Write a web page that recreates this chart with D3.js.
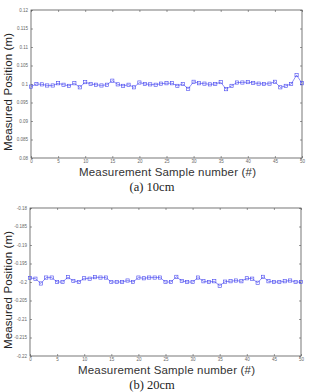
<!DOCTYPE html>
<html>
<head>
<meta charset="utf-8">
<script src="https://cdn.jsdelivr.net/npm/d3@7"></script>
<style>
  html, body { margin: 0; padding: 0; background: #fff; }
  svg { display: block; }
</style>
</head>
<body>
<svg id="chart" width="309" height="392"></svg>
<script>
// sample indices 0..50
const samples = d3.range(0, 51);

// (a) 10cm measurements (m)
const posA = [
  0.0993, 0.1000, 0.0999, 0.0996, 0.0996, 0.1002, 0.0998, 0.0995, 0.1002, 0.0991,
  0.1005, 0.1000, 0.0998, 0.0996, 0.0998, 0.1009, 0.0999, 0.0995, 0.0998, 0.0991,
  0.1004, 0.1000, 0.0999, 0.0998, 0.1001, 0.1002, 0.1002, 0.0995, 0.1000, 0.0987,
  0.1006, 0.1002, 0.1001, 0.0999, 0.1000, 0.1005, 0.0986, 0.0995, 0.1004, 0.1004,
  0.1005, 0.1003, 0.1001, 0.1000, 0.1001, 0.1006, 0.0991, 0.0995, 0.1000, 0.1024,
  0.1002
];

// (b) 20cm measurements (m)
const posB = [
  -0.1989, -0.1991, -0.2004, -0.1988, -0.1988, -0.2000, -0.2000, -0.1987, -0.1997, -0.2000,
  -0.1990, -0.1991, -0.1987, -0.1988, -0.1988, -0.2000, -0.2000, -0.2000, -0.1996, -0.2000,
  -0.1988, -0.1990, -0.1988, -0.1988, -0.1988, -0.2000, -0.2000, -0.1986, -0.1997, -0.2000,
  -0.2000, -0.1988, -0.1998, -0.2000, -0.1998, -0.2010, -0.1999, -0.1998, -0.1996, -0.1998,
  -0.1990, -0.1991, -0.2002, -0.1986, -0.1998, -0.2000, -0.2000, -0.1998, -0.1996, -0.2000,
  -0.2000
];

const xTicks = [0, 5, 10, 15, 20, 25, 30, 35, 40, 45, 50];
const yTicksA = [0.08, 0.085, 0.09, 0.095, 0.1, 0.105, 0.11, 0.115, 0.12];
const yTicksB = [-0.22, -0.215, -0.21, -0.205, -0.2, -0.195, -0.19, -0.185, -0.18];

const xLabel = 'Measurement Sample number (#)';
const yLabel = 'Measured Position (m)';

const svg = d3.select('#chart');

function panel(opts) {
  const { values, yTicks, box, caption } = opts;
  const g = svg.append('g');

  const x = d3.scaleLinear().domain([0, 50]).range([box.left, box.right]);
  const y = d3.scaleLinear().domain([yTicks[0], yTicks[yTicks.length - 1]])
    .range([box.bottom, box.top]);

  const tickFmt = v => String(v);

  // bottom axis, ticks pointing inward (matlab style)
  g.append('g')
    .attr('transform', `translate(0,${box.bottom})`)
    .call(d3.axisBottom(x).tickValues(xTicks).tickSizeInner(-2).tickSizeOuter(0).tickPadding(2).tickFormat(tickFmt))
    .call(a => a.select('.domain').remove())
    .call(a => a.selectAll('text').attr('font-size', 4.5).attr('fill', '#666'));
  g.append('g')
    .attr('transform', `translate(0,${box.top})`)
    .call(d3.axisTop(x).tickValues(xTicks).tickSizeInner(-2).tickSizeOuter(0).tickFormat(''))
    .call(a => a.select('.domain').remove());

  g.append('g')
    .attr('transform', `translate(${box.left},0)`)
    .call(d3.axisLeft(y).tickValues(yTicks).tickSizeInner(-2).tickSizeOuter(0).tickPadding(3).tickFormat(tickFmt))
    .call(a => a.select('.domain').remove())
    .call(a => a.selectAll('text').attr('font-size', 4.5).attr('fill', '#666'));
  g.append('g')
    .attr('transform', `translate(${box.right},0)`)
    .call(d3.axisRight(y).tickValues(yTicks).tickSizeInner(-2).tickSizeOuter(0).tickFormat(''))
    .call(a => a.select('.domain').remove());

  g.selectAll('.tick line').attr('stroke', '#555').attr('stroke-width', 0.6);
  g.selectAll('.tick text').attr('font-family', 'Liberation Sans, Arial, sans-serif');

  g.append('rect')
    .attr('x', box.left).attr('y', box.top)
    .attr('width', box.right - box.left).attr('height', box.bottom - box.top)
    .attr('fill', 'none').attr('stroke', '#555').attr('stroke-width', 0.8);

  const pts = samples.map((s, i) => [s, values[i]]);

  g.append('path')
    .datum(pts)
    .attr('fill', 'none')
    .attr('stroke', '#4646f0')
    .attr('stroke-width', 0.6)
    .attr('d', d3.line().x(d => x(d[0])).y(d => y(d[1])));

  g.selectAll('rect.mk')
    .data(pts)
    .enter()
    .append('rect')
    .attr('class', 'mk')
    .attr('x', d => x(d[0]) - 1.6)
    .attr('y', d => y(d[1]) - 1.6)
    .attr('width', 3.2).attr('height', 3.2)
    .attr('fill', 'none')
    .attr('stroke', '#4646f0')
    .attr('stroke-width', 0.6);

  g.append('text')
    .attr('x', (box.left + box.right) / 2 + 1)
    .attr('y', box.bottom + 18)
    .attr('text-anchor', 'middle')
    .attr('font-family', 'Liberation Sans, Arial, sans-serif')
    .attr('font-size', 11.5)
    .attr('fill', '#333')
    .attr('textLength', 177)
    .attr('lengthAdjust', 'spacing')
    .text(xLabel);

  g.append('text')
    .attr('transform', `translate(12,${(box.top + box.bottom) / 2 + 8}) rotate(-90)`)
    .attr('text-anchor', 'middle')
    .attr('font-family', 'Liberation Sans, Arial, sans-serif')
    .attr('font-size', 11.5)
    .attr('fill', '#222')
    .attr('textLength', 118)
    .attr('lengthAdjust', 'spacing')
    .text(yLabel);

  g.append('text')
    .attr('x', 152)
    .attr('y', caption.y)
    .attr('text-anchor', 'middle')
    .attr('font-family', 'Liberation Serif, Times New Roman, serif')
    .attr('font-size', 12.5)
    .attr('fill', '#222')
    .text(caption.text);
}

panel({
  values: posA,
  yTicks: yTicksA,
  box: { left: 31, right: 302, top: 10, bottom: 158 },
  caption: { text: '(a) 10cm', y: 191 }
});

panel({
  values: posB,
  yTicks: yTicksB,
  box: { left: 30, right: 301, top: 208, bottom: 356 },
  caption: { text: '(b) 20cm', y: 389 }
});
</script>
</body>
</html>
